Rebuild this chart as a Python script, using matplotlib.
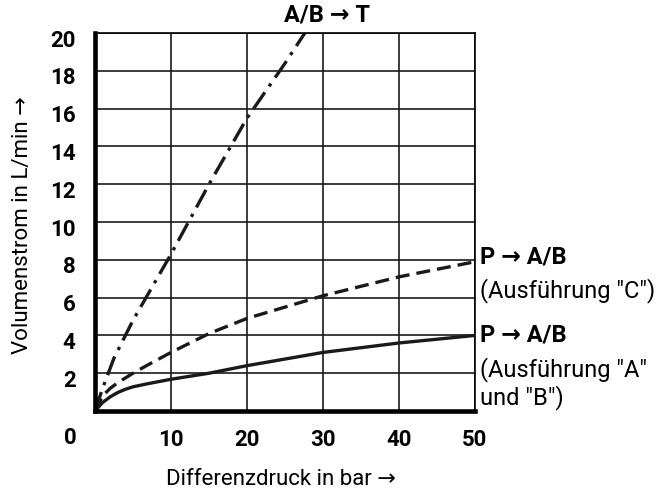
import matplotlib
matplotlib.use("Agg")
import matplotlib.pyplot as plt
from matplotlib.transforms import ScaledTranslation

plt.rcParams['font.family'] = ['Roboto', 'DejaVu Sans']

# Kennlinien
x_abt = [0, 1, 2.5, 5, 10, 15, 20, 25, 27.6]
y_abt = [0, 1.2, 2.8, 4.8, 8.3, 12.0, 15.5, 18.4, 20.0]

x_pab_c = [0, 1, 2, 3, 4, 5, 7, 10, 15, 20, 30, 40, 50]
y_pab_c = [0, 0.8, 1.2, 1.5, 1.75, 2.0, 2.45, 3.1, 4.1, 4.9, 6.1, 7.1, 7.9]

x_pab_ab = [0, 1, 2, 3, 4, 5, 7, 10, 15, 20, 30, 40, 50]
y_pab_ab = [0, 0.45, 0.75, 0.98, 1.15, 1.28, 1.45, 1.68, 2.0, 2.4, 3.1, 3.6, 4.0]

x_ticks = [10, 20, 30, 40, 50]
y_ticks = [2, 4, 6, 8, 10, 12, 14, 16, 18, 20]

fig = plt.figure(figsize=(6.69, 4.94), dpi=100)
ax = fig.add_axes([0.142, 0.168, 0.568, 0.765])

ax.plot(x_abt, y_abt, color='#1a1a1a', lw=2.4, dashes=(6, 2.2, 1, 2.2))
ax.plot(x_pab_c, y_pab_c, color='#1a1a1a', lw=2.4, dashes=(4.2, 2.1))
ax.plot(x_pab_ab, y_pab_ab, color='#1a1a1a', lw=2.4)

ax.set_xlim(0, 50)
ax.set_ylim(0, 20)
ax.set_xticks(x_ticks)
ax.set_yticks(y_ticks)
ax.grid(True, color='#1a1a1a', lw=1.2)
ax.tick_params(length=0, labelsize=16)
ax.tick_params(axis='x', pad=13)
ax.tick_params(axis='y', pad=14)
# Beschriftungen der y-Achse leicht nach unten versetzt wie im Original
shift = ScaledTranslation(0, -0.05, fig.dpi_scale_trans)
for lab in ax.get_yticklabels():
    lab.set_transform(lab.get_transform() + shift)
for lab in ax.get_xticklabels() + ax.get_yticklabels():
    lab.set_fontweight('bold')

for s in ['top', 'right']:
    ax.spines[s].set_linewidth(1.2)
for s in ['left', 'bottom']:
    ax.spines[s].set_linewidth(3.3)

ax.text(-3.3, -1.45, '0', fontsize=16, fontweight='bold', ha='center', va='center')

# Achsentitel frei platziert, damit nichts abgeschnitten wird
fig.text(0.42, 0.030, 'Differenzdruck in bar →', fontsize=16, ha='center', va='center')
fig.text(0.034, 0.545, 'Volumenstrom in L/min →', fontsize=16, ha='center', va='center',
         rotation=90)

ax.text(30.5, 20.95, 'A/B → T', fontsize=17, fontweight='bold', ha='center', va='center', clip_on=False)
ax.text(50.66, 8.15, 'P → A/B', fontsize=17, fontweight='bold', ha='left', va='center', clip_on=False)
ax.text(50.66, 6.4, '(Ausführung "C")', fontsize=17, ha='left', va='center', clip_on=False)
ax.text(50.66, 4.0, 'P → A/B', fontsize=17, fontweight='bold', ha='left', va='center', clip_on=False)
ax.text(50.66, 2.17, '(Ausführung "A"', fontsize=17, ha='left', va='center', clip_on=False)
ax.text(50.66, 0.69, 'und "B")', fontsize=17, ha='left', va='center', clip_on=False)

fig.savefig('out.png', dpi=100, facecolor='white')
